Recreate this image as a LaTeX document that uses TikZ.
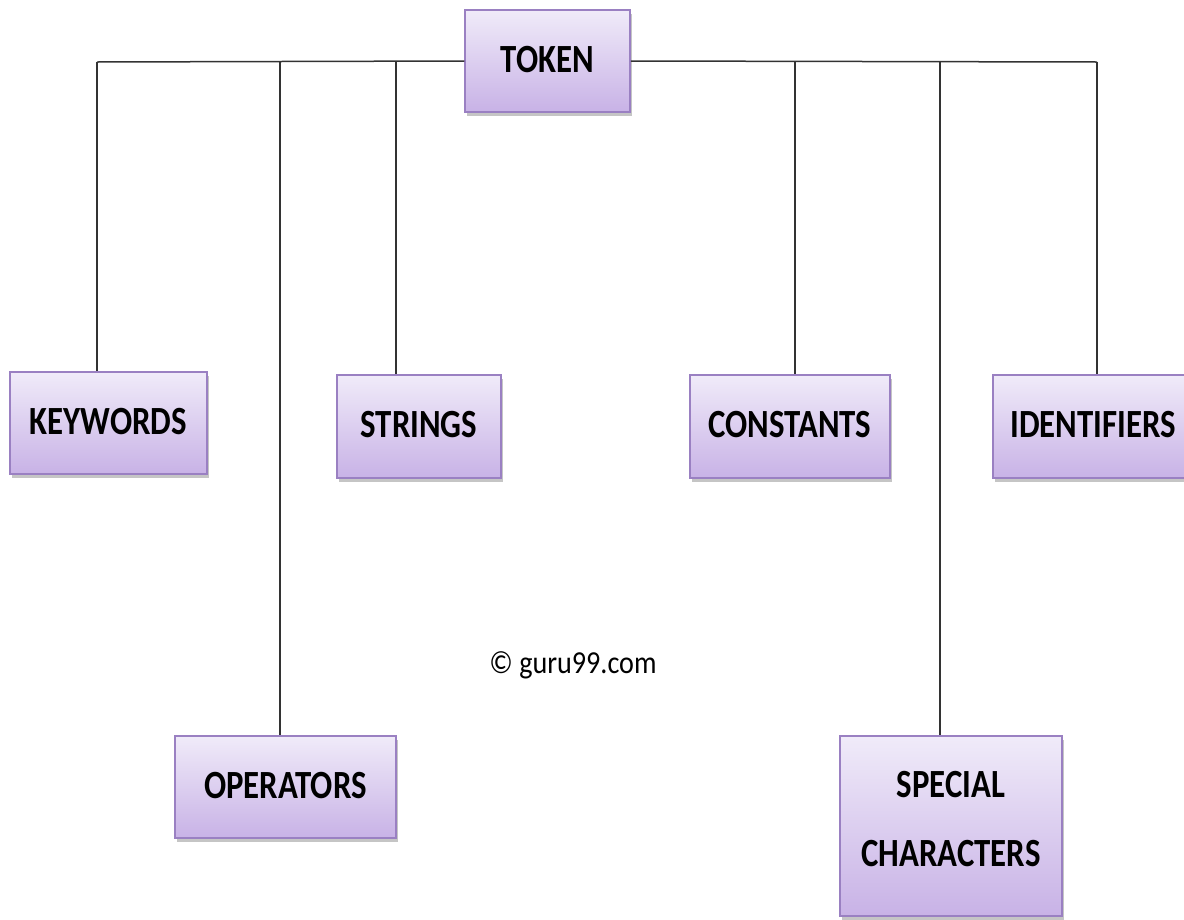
\documentclass[tikz,border=0pt]{standalone}
\usepackage{fontspec}
\setmainfont{Carlito}
\usetikzlibrary{shadows}
\definecolor{boxtop}{HTML}{F0EBF9}
\definecolor{boxbot}{HTML}{C8B2E6}
\definecolor{boxline}{HTML}{9A80C2}
\newcommand{\lbltxt}[1]{\raisebox{4pt}{\scalebox{0.82}[1]{#1}}}
\tikzset{
  tokbox/.style={draw=boxline, line width=1.5pt, top color=boxtop, bottom color=boxbot,
    inner sep=0pt, align=center, font=\fontsize{40}{68}\selectfont\bfseries,
    drop shadow={shadow xshift=2pt, shadow yshift=-4pt, fill=black!45, opacity=0.5}},
  conn/.style={line width=1.5pt, draw=black!80},
}
\begin{document}
\begin{tikzpicture}[x=1pt,y=-1pt]
\useasboundingbox (0,0) rectangle (1184,919);
\fill[white] (0,0) rectangle (1184,919);
% boxes
\node[tokbox, minimum width=165pt, minimum height=102pt] (tok) at (547.5,61) {\lbltxt{TOKEN}};
\node[tokbox, minimum width=197pt, minimum height=102pt] (kw) at (108.5,423) {\lbltxt{KEYWORDS}};
\node[tokbox, minimum width=164pt, minimum height=103pt] (str) at (419,426.5) {\lbltxt{STRINGS}};
\node[tokbox, minimum width=200pt, minimum height=103pt] (con) at (790,426.5) {\lbltxt{CONSTANTS}};
\node[tokbox, minimum width=200pt, minimum height=103pt] (ide) at (1093,426.5) {\lbltxt{IDENTIFIERS}};
\node[tokbox, minimum width=221pt, minimum height=102pt] (ope) at (285.5,787) {\lbltxt{OPERATORS}};
\node[tokbox, minimum width=222pt, minimum height=180pt] (spe) at (951,826) {\raisebox{14.5pt}{\shortstack{\scalebox{0.82}[1]{SPECIAL}\\[39pt]\scalebox{0.82}[1]{CHARACTERS}}}};
% junctions on the horizontal line
\coordinate (jK) at (97,62);
\coordinate (jO) at (280,62);
\coordinate (jS) at (396,62);
\coordinate (jC) at (795,62);
\coordinate (jP) at (940,62);
\coordinate (jI) at (1097,62);
\draw[conn] (jK) -- (tok.west);
\draw[conn] (tok.east) -- (jI);
\draw[conn] (jK) -- (jK |- kw.north);
\draw[conn] (jO) -- (jO |- ope.north);
\draw[conn] (jS) -- (jS |- str.north);
\draw[conn] (jC) -- (jC |- con.north);
\draw[conn] (jP) -- (jP |- spe.north);
\draw[conn] (jI) -- (jI |- ide.north);
\node[font=\fontsize{32}{36}\selectfont] (copy) at (573,665) {\scalebox{0.88}[1]{\textcopyright{} guru99.com}};
\end{tikzpicture}
\end{document}
